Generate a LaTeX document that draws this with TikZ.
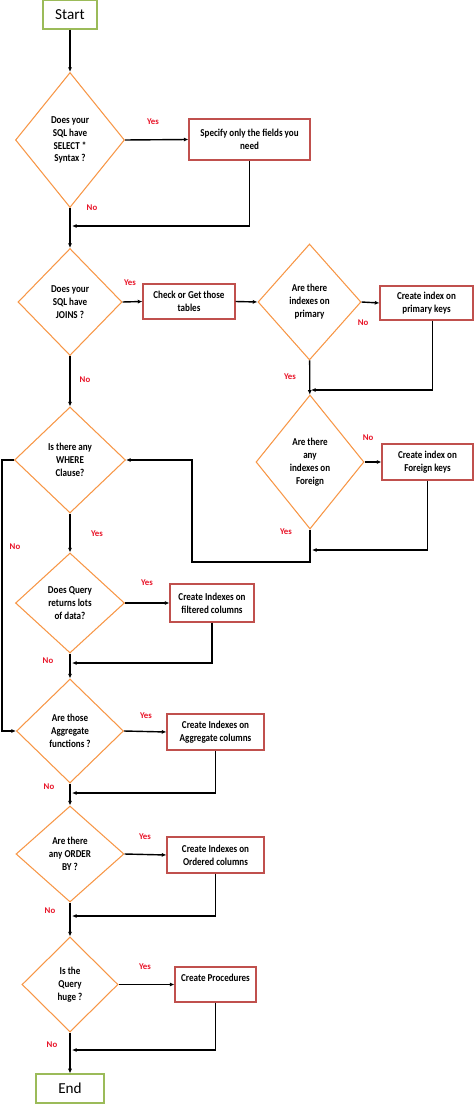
\documentclass[tikz,border=0pt]{standalone}
\usepackage{fontspec}
\setmainfont{Carlito}
\newfontfamily\nrwfont{Carlito}[FakeStretch=0.86]
\usetikzlibrary{shapes.geometric,arrows.meta}
\definecolor{chO}{RGB}{247,150,70}
\definecolor{chR}{RGB}{192,80,77}
\definecolor{chG}{RGB}{155,187,89}
\definecolor{chY}{RGB}{232,20,40}

\begin{document}
\begin{tikzpicture}[x=0.03cm,y=-0.03cm,
   dq/.style={diamond,draw=chO,line width=0.9pt,inner sep=0pt,align=center,
     font=\nrwfont\fontsize{9}{11}\selectfont\bfseries},
   pb/.style={rectangle,draw=chR,line width=0.9pt,inner sep=0pt,align=center,
     font=\nrwfont\fontsize{9}{11}\selectfont\bfseries},
   tb/.style={rectangle,draw=chG,line width=1pt,font=\fontsize{13}{15}\selectfont},
   yn/.style={text=chY,inner sep=0pt,font=\fontsize{7.5}{9}\selectfont\bfseries},
   e/.style={line width=1.2pt,-{Latex[length=4pt,width=3.5pt]}}]
\useasboundingbox (0,0) rectangle (474,1105);
%% ---- main column ----
\node[tb,minimum width=1.62cm,minimum height=0.87cm] (start) at (70,14.5) {Start};
\node[dq,minimum width=3.27cm,minimum height=4.05cm] (d1) at (70,140) {Does your\\SQL have\\SELECT *\\Syntax ?};
\node[dq,minimum width=3.12cm,minimum height=3.21cm] (d2) at (70,302) {Does your\\SQL have\\JOINS ?};
\node[dq,minimum width=3.33cm,minimum height=3.18cm] (d5) at (70,460) {Is there any\\WHERE\\Clause?};
\node[dq,minimum width=3.27cm,minimum height=3.0cm] (d6) at (70,603) {Does Query\\returns lots\\of data?};
\node[dq,minimum width=3.21cm,minimum height=3.12cm] (d7) at (70,731) {Are those\\Aggregate\\functions ?};
\node[dq,minimum width=3.24cm,minimum height=2.88cm] (d8) at (70,854) {Are there\\any ORDER\\BY ?};
\node[dq,minimum width=2.88cm,minimum height=2.85cm] (d9) at (70,984.5) {Is the\\Query\\huge ?};
\node[tb,minimum width=2.04cm,minimum height=0.87cm] (end) at (70,1088.5) {End};
%% ---- joins branch ----
\node[dq,minimum width=3.09cm,minimum height=3.48cm] (d3) at (309.5,302) {Are there\\indexes on\\primary};
\node[dq,minimum width=3.24cm,minimum height=4.02cm] (d4) at (310,462) {Are there\\any\\indexes on\\Foreign};
%% ---- action boxes ----
\node[pb,minimum width=3.63cm,minimum height=1.23cm] (b1) at (249.5,139.5) {Specify only the fields you\\need};
\node[pb,minimum width=2.76cm,minimum height=1.05cm] (b2) at (189,301.5) {Check or Get those\\tables};
\node[pb,minimum width=2.79cm,minimum height=1.02cm] (b3) at (426.5,303) {Create index on\\primary keys};
\node[pb,minimum width=2.73cm,minimum height=1.08cm] (b4) at (427.5,462) {Create index on\\Foreign keys};
\node[pb,minimum width=2.52cm,minimum height=1.14cm] (b5) at (212,603) {Create Indexes on\\filtered columns};
\node[pb,minimum width=2.91cm,minimum height=1.08cm] (b6) at (215.5,732) {Create Indexes on\\Aggregate columns};
\node[pb,minimum width=2.91cm,minimum height=1.08cm] (b7) at (215.5,855) {Create Indexes on\\Ordered columns};
\node[pb,minimum width=2.43cm,minimum height=1.05cm] (b8) at (215.5,984.5) {Create Procedures\\~};
%% ---- merge points ----
\coordinate (m1) at (72,226);
\coordinate (m2) at (311,390);
\coordinate (m3) at (312,550);
\coordinate (k4) at (192,562);
\coordinate (m4) at (72,663);
\coordinate (m5) at (72,793);
\coordinate (m6) at (72,916);
\coordinate (m7) at (72,1050);
%% ---- connectors ----
\draw[e] (start)--(d1);
\draw[e] (d1)--(d2);
\draw[e] (d1.east)--(b1.west);
\draw[e] (b1.south) |- (m1);
\draw[e] (d2)--(d5);
\draw[e] (d2.east)--(b2.west);
\draw[e] (b2.east)--(d3.west);
\draw[e] (d3.east)--(b3.west);
\draw[e] ([xshift=0.18cm]b3.south) |- (m2);
\draw[e] (d3)--(d4);
\draw[e] (d4.east)--(b4.west);
\draw[e] (b4.south) |- (m3);
\draw[e] (d4.south) |- (k4) |- (d5.east);  % back to the WHERE test
\draw[e] (d5)--(d6);
\draw[e] (d5.west) -- ++(-12,0) |- (d7.west);
\draw[e] (d6.east)--(b5.west);
\draw[e] (b5.south) |- (m4);
\draw[e] (d6)--(d7);
\draw[e] (d7.east)--(b6.west);
\draw[e] (b6.south) |- (m5);
\draw[e] (d7)--(d8);
\draw[e] (d8.east)--(b7.west);
\draw[e] (b7.south) |- (m6);
\draw[e] (d8)--(d9);
\draw[e] (d9.east)--(b8.west);
\draw[e] (b8.south) |- (m7);
\draw[e] (d9)--(end);
%% ---- yes / no labels ----
\node[yn] (y1) at (153,122) {Yes};   \node[yn] (n1) at (92,208) {No};
\node[yn] (y2) at (130,283) {Yes};   \node[yn] (n2) at (85,380) {No};
\node[yn] (y3) at (290,377) {Yes};   \node[yn] (n3) at (363,323) {No};
\node[yn] (y4) at (286,532) {Yes};   \node[yn] (n4) at (368,438) {No};
\node[yn] (y5) at (97,534) {Yes};    \node[yn] (n5) at (15,547) {No};
\node[yn] (y6) at (147,583) {Yes};   \node[yn] (n6) at (48,661) {No};
\node[yn] (y7) at (146,716) {Yes};   \node[yn] (n7) at (49,787) {No};
\node[yn] (y8) at (145,837) {Yes};   \node[yn] (n8) at (50,911) {No};
\node[yn] (y9) at (145,967) {Yes};   \node[yn] (n9) at (52,1045) {No};
\end{tikzpicture}
\end{document}
